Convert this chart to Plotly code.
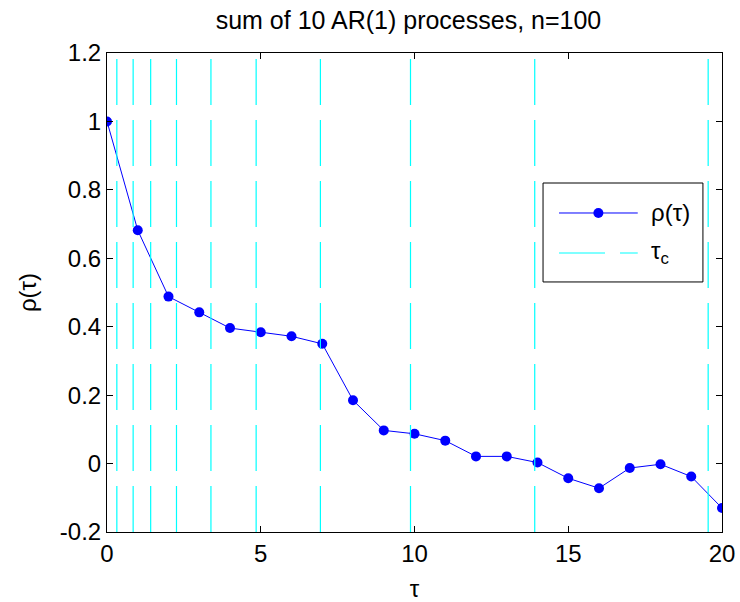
import plotly.graph_objects as go

# data
tau = list(range(21))
rho = [1.0, 0.682, 0.488, 0.442, 0.396, 0.384, 0.372, 0.350, 0.185, 0.097,
       0.087, 0.067, 0.021, 0.021, 0.003, -0.043, -0.072, -0.013, -0.002,
       -0.038, -0.130]
tau_c = [0.32, 0.85, 1.42, 2.26, 3.38, 4.85, 6.94, 9.87, 13.91, 19.55]
y_limits = [-0.2, 1.2]
x_ticks = [0, 5, 10, 15, 20]
y_ticks = [-0.2, 0, 0.2, 0.4, 0.6, 0.8, 1.0, 1.2]
y_tick_text = ["-0.2", "0", "0.2", "0.4", "0.6", "0.8", "1", "1.2"]
legend_labels = ["ρ(τ)", "τ<sub>c</sub>"]

FONT = "Liberation Sans, Arial, sans-serif"
BLUE = "#0000ff"
CYAN = "#00ffff"
DASH = "46px,15px"

fig = go.Figure()
fig.add_trace(go.Scatter(
    x=tau, y=rho, mode="lines+markers", name=legend_labels[0],
    line=dict(color=BLUE, width=1),
    marker=dict(color=BLUE, size=10),
))
for t in tau_c:
    fig.add_trace(go.Scatter(
        x=[t, t], y=y_limits, mode="lines", name="τc",
        line=dict(color=CYAN, width=1.2, dash=DASH), hoverinfo="skip",
    ))

axis_common = dict(
    showgrid=False, zeroline=False, showline=True, linecolor="black",
    linewidth=1, mirror="ticks", ticks="inside", ticklen=6,
    tickcolor="black", tickfont=dict(family=FONT, size=24, color="black"),
    automargin=False, ticklabeloverflow="allow",
)

# legend box (MATLAB-style), in paper coordinates of the plot area
lx0, lx1, ly0, ly1 = 0.709, 0.969, 0.522, 0.7286
row_y = [0.666, 0.5825]
sx0, sx1, smid, tx = 0.735, 0.863, 0.799, 0.881
shapes = [
    dict(type="rect", xref="paper", yref="paper", x0=lx0, x1=lx1, y0=ly0, y1=ly1,
         line=dict(color="black", width=1), fillcolor="white", layer="above"),
    dict(type="line", xref="paper", yref="paper", x0=sx0, x1=sx1, y0=row_y[0], y1=row_y[0],
         line=dict(color=BLUE, width=1), layer="above"),
    dict(type="circle", xref="paper", yref="paper", xsizemode="pixel", ysizemode="pixel",
         xanchor=smid, yanchor=row_y[0], x0=-5, x1=5, y0=-5, y1=5,
         line=dict(color=BLUE, width=0), fillcolor=BLUE, layer="above"),
    dict(type="line", xref="paper", yref="paper", x0=sx0, x1=sx1, y0=row_y[1], y1=row_y[1],
         line=dict(color=CYAN, width=1.2, dash=DASH), layer="above"),
]
annotations = [
    dict(text=legend_labels[i], xref="paper", yref="paper", x=tx, y=row_y[i],
         xanchor="left", yanchor="middle", showarrow=False,
         font=dict(family=FONT, size=24, color="black"))
    for i in range(2)
]

fig.update_layout(
    width=740, height=602,
    margin=dict(l=107, r=18, t=53, b=70),
    paper_bgcolor="white", plot_bgcolor="white",
    showlegend=False,
    title=dict(text="sum of 10 AR(1) processes, n=100", x=0.552, xanchor="center",
               y=0.966, yanchor="middle",
               font=dict(family=FONT, size=25, color="black")),
    xaxis=dict(range=[0, 20], tickvals=x_ticks,
               title=dict(text="τ", font=dict(family=FONT, size=24, color="black"), standoff=14),
               **axis_common),
    yaxis=dict(range=y_limits, tickvals=y_ticks, ticktext=y_tick_text,
               title=dict(text="ρ(τ)", font=dict(family=FONT, size=24, color="black"), standoff=16),
               **axis_common),
    shapes=shapes,
    annotations=annotations,
)
fig.write_html("out.html")
